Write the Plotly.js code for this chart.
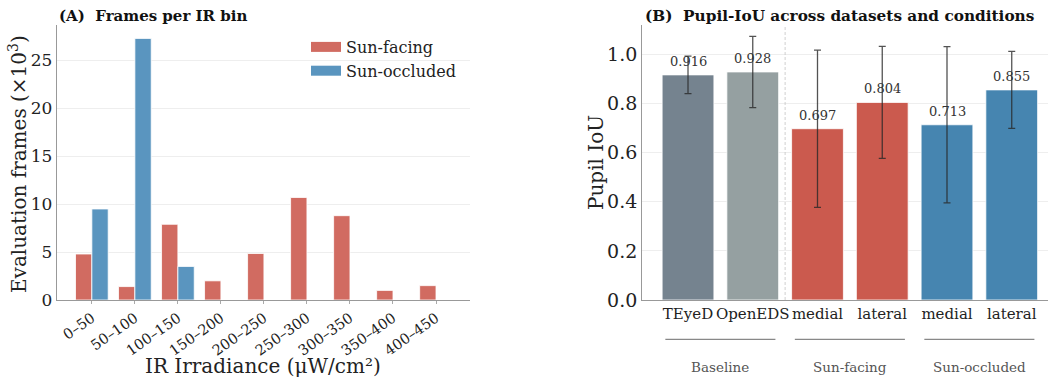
<!DOCTYPE html>
<html>
<head>
<meta charset="utf-8">
<script src="https://cdn.plot.ly/plotly-3.0.1.min.js"></script>
<style>html,body{margin:0;padding:0;background:#fff;}#chart{width:1049px;height:377px;}</style>
</head>
<body>
<div id="chart"></div>
<script>
// ---------- Panel A data ----------
const irBins = ['0–50','50–100','100–150','150–200','200–250','250–300','300–350','350–400','400–450'];
const sunFacing = [4.8, 1.4, 7.9, 2.0, 4.85, 10.7, 8.8, 1.0, 1.5];
const sunOccluded = [9.5, 27.3, 3.5, 0, 0, 0, 0, 0, 0];

// ---------- Panel B data ----------
const conditions = ['TEyeD','OpenEDS','medial','lateral','medial','lateral'];
const iouMeans = [0.916, 0.928, 0.697, 0.804, 0.713, 0.855];
const iouErrors = [0.076, 0.145, 0.320, 0.228, 0.318, 0.157];
const barColors = ['#75838f','#95a0a1','#cb5a4e','#cb5a4e','#4685b0','#4685b0'];
const groupNames = ['Baseline','Sun-facing','Sun-occluded'];
const groupStart = [0, 2, 4];
const groupEnd = [1, 3, 5];

const FONT = 'DejaVu Serif, Liberation Serif, serif';
const W = 1049, H = 377, T = 25, B = 77;
const PH = H - T - B;
const px = v => v / W;
const py = v => (H - B - v) / PH;

const idxA = irBins.map((_, i) => i);
const idxB = conditions.map((_, i) => i);

const traces = [
  {type:'bar', x: idxA, y: sunFacing, xaxis:'x', yaxis:'y', offset:-0.38, width:0.38,
   marker:{color:'#d16b61', line:{color:'white', width:0.8}}, showlegend:false, hoverinfo:'skip'},
  {type:'bar', x: idxA, y: sunOccluded, xaxis:'x', yaxis:'y', offset:0, width:0.38,
   marker:{color:'#5a95bf', line:{color:'white', width:0.8}}, showlegend:false, hoverinfo:'skip'},
  // legend entries
  {type:'scatter', mode:'lines', x:[null], y:[null], xaxis:'x', yaxis:'y', name:'Sun-facing',
   line:{color:'#d16b61', width:10}},
  {type:'scatter', mode:'lines', x:[null], y:[null], xaxis:'x', yaxis:'y', name:'Sun-occluded',
   line:{color:'#5a95bf', width:10}},
  {type:'bar', x: idxB, y: iouMeans, xaxis:'x2', yaxis:'y2', width:0.8,
   marker:{color: barColors, line:{color:'rgba(255,255,255,0.8)', width:1}},
   error_y:{type:'data', array: iouErrors, visible:true, color:'rgba(40,40,40,0.8)', thickness:1.3, width:3.5},
   showlegend:false, hoverinfo:'skip'}
];

const annotations = [
  {text:'<b>(A)  Frames per IR bin</b>', xref:'paper', yref:'paper', x:px(57), y:py(16),
   xanchor:'left', yanchor:'middle', showarrow:false, font:{family:FONT, size:15, color:'#111'}},
  {text:'<b>(B)  Pupil-IoU across datasets and conditions</b>', xref:'paper', yref:'paper', x:px(643), y:py(16),
   xanchor:'left', yanchor:'middle', showarrow:false, font:{family:FONT, size:15.3, color:'#111'}},
  {text:'Evaluation frames (×10<sup>3</sup>)', xref:'paper', yref:'paper', x:px(18), y:py(164),
   xanchor:'center', yanchor:'middle', textangle:-90, showarrow:false, font:{family:FONT, size:20, color:'#222'}},
  {text:'IR Irradiance (μW/cm²)', xref:'paper', yref:'paper', x:px(263), y:py(366),
   xanchor:'center', yanchor:'middle', showarrow:false, font:{family:FONT, size:20, color:'#222'}},
  {text:'Pupil IoU', xref:'paper', yref:'paper', x:px(596), y:py(163),
   xanchor:'center', yanchor:'middle', textangle:-90, showarrow:false, font:{family:FONT, size:20, color:'#222'}}
];
iouMeans.forEach((v, i) => {
  annotations.push({text: v.toFixed(3), xref:'x2', yref:'y2', x:i, y:v, yanchor:'bottom', yshift:4,
    showarrow:false, font:{family:FONT, size:13, color:'#333'}});
});
const shapes = [
  {type:'line', xref:'x2', yref:'paper', x0:1.5, x1:1.5, y0:0, y1:1,
   line:{color:'#c4c4c4', width:0.8, dash:'3px,2px'}}
];
groupNames.forEach((g, k) => {
  shapes.push({type:'line', xref:'x2', yref:'paper', x0:groupStart[k]-0.35, x1:groupEnd[k]+0.35,
    y0:py(339.3), y1:py(339.3), line:{color:'#888', width:1.2}});
  annotations.push({text:g, xref:'x2', yref:'paper', x:(groupStart[k]+groupEnd[k])/2, y:py(367),
    xanchor:'center', yanchor:'middle', showarrow:false, font:{family:FONT, size:13.5, color:'#555'}});
});

const layout = {
  width:W, height:H, margin:{l:0, r:0, t:T, b:B},
  paper_bgcolor:'#fff', plot_bgcolor:'#fff',
  font:{family:FONT, color:'#222'},
  barmode:'overlay',
  showlegend:true,
  legend:{x:px(306), y:py(30), xanchor:'left', yanchor:'top', bgcolor:'rgba(0,0,0,0)',
          font:{family:FONT, size:16, color:'#222'}, tracegroupgap:0},
  xaxis:{domain:[px(57), px(470)], range:[-0.81, 8.79], tickmode:'array', tickvals: idxA, ticktext: irBins,
         tickangle:-35, tickfont:{family:FONT, size:14.5, color:'#222'}, ticks:'outside', ticklen:3, tickcolor:'#aaa',
         showline:true, linecolor:'#999', linewidth:1.2, showgrid:false, zeroline:false, anchor:'y'},
  yaxis:{domain:[0,1], range:[0, 28.7], tickmode:'array', tickvals:[0,5,10,15,20,25],
         tickfont:{family:FONT, size:17, color:'#222'}, showline:true, linecolor:'#999', linewidth:1.2,
         showgrid:true, gridcolor:'#eeeeee', gridwidth:1, zeroline:false, anchor:'x', ticks:''},
  xaxis2:{domain:[px(642.3), px(1048)], range:[-0.706, 5.56], tickmode:'array', tickvals: idxB, ticktext: conditions,
          tickangle:0, tickfont:{family:FONT, size:15, color:'#222'}, showline:true, linecolor:'#999', linewidth:1.2,
          showgrid:false, zeroline:false, anchor:'y2', ticks:''},
  yaxis2:{domain:[0,1], range:[0, 1.119], tickmode:'array', tickvals:[0,0.2,0.4,0.6,0.8,1.0],
          ticktext:['0.0','0.2','0.4','0.6','0.8','1.0'],
          tickfont:{family:FONT, size:19, color:'#222'}, showline:true, linecolor:'#999', linewidth:1.2,
          showgrid:true, gridcolor:'#eeeeee', gridwidth:1, zeroline:false, anchor:'x2', ticks:''},
  annotations: annotations,
  shapes: shapes
};

Plotly.newPlot('chart', traces, layout, {staticPlot:true, displayModeBar:false});
</script>
</body>
</html>
